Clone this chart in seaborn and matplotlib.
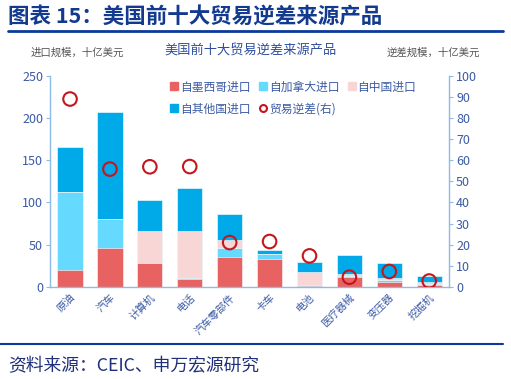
import numpy as np
import pandas as pd
import matplotlib
matplotlib.use('Agg')
import matplotlib.pyplot as plt
from matplotlib.lines import Line2D
import seaborn as sns

# data (十亿美元)
cats = ['原油', '汽车', '计算机', '电话', '汽车零部件', '卡车', '电池', '医疗器械', '变压器', '挖掘机']
mexico = [20, 46, 28, 9.5, 35.5, 33, 1.5, 12, 6, 2]
canada = [92, 35, 0, 1, 11, 6, 0.5, 1, 2, 1.5]
china = [0, 0, 38.5, 55.5, 9, 0, 16, 2, 3, 2.5]
other = [53.5, 126.5, 37, 51, 30.5, 5, 11.5, 23, 17, 6.5]
deficit = [89, 55.8, 56.9, 57, 21, 21.5, 14.7, 4.6, 7.3, 2.8]

c_mex = '#E86262'
c_can = '#66D9FF'
c_chn = '#F9D6D6'
c_oth = '#00A9E8'
c_def = '#C4161C'
c_tick = '#3B5BA5'
c_spine = '#8CBCE6'
c_navy = '#123A8E'

sns.set_style('white')
plt.rcParams['font.family'] = ['Noto Sans CJK SC', 'DejaVu Sans']

df = pd.DataFrame({'cat': cats, 'mex': mexico, 'can': canada, 'chn': china, 'oth': other})
df['s1'] = df['mex']
df['s2'] = df['s1'] + df['can']
df['s3'] = df['s2'] + df['chn']
df['s4'] = df['s3'] + df['oth']

fig = plt.figure(figsize=(5.11, 3.79), dpi=100)
ax = fig.add_axes([0.098, 0.243, 0.781, 0.557])

# stacked bars drawn back to front
for col, c in [('s4', c_oth), ('s3', c_chn), ('s2', c_can), ('s1', c_mex)]:
    sns.barplot(x='cat', y=col, data=df, color=c, width=0.63, ax=ax,
                edgecolor='white', linewidth=0.4, saturation=1)

ax.set_ylim(0, 250)
ax.set_yticks(range(0, 251, 50))
ax.set_xlim(-0.5, 9.5)
ax.set_xlabel('')
ax.set_ylabel('')
ax.set_xticks(range(10))
ax.set_xticklabels(cats, rotation=45, ha='right', rotation_mode='anchor',
                   fontsize=7.5, color=c_tick)
ax.xaxis.set_minor_locator(matplotlib.ticker.FixedLocator(np.arange(-0.5, 10, 1)))
ax.tick_params(axis='x', which='major', length=0, pad=4)
ax.tick_params(axis='x', which='minor', length=4, color=c_spine, direction='out')
ax.tick_params(axis='y', length=3, color=c_spine, labelsize=9, labelcolor=c_tick, pad=2)
for s in ['top', 'right']:
    ax.spines[s].set_visible(False)
for s in ['left', 'bottom']:
    ax.spines[s].set_color(c_spine)
    ax.spines[s].set_linewidth(1)

ax2 = ax.twinx()
ax2.scatter(range(10), deficit, s=95, facecolors='none', edgecolors=c_def,
            linewidths=1.5, zorder=5)
ax2.set_ylim(0, 100)
ax2.set_yticks(range(0, 101, 10))
ax2.tick_params(axis='y', length=3, color=c_spine, labelsize=9, labelcolor=c_tick, pad=2)
for s in ['top', 'left', 'bottom']:
    ax2.spines[s].set_visible(False)
ax2.spines['right'].set_color(c_spine)
ax2.spines['right'].set_linewidth(1)

handles = [
    Line2D([], [], marker='s', ls='', color=c_mex, markersize=6),
    Line2D([], [], marker='s', ls='', color=c_oth, markersize=6),
    Line2D([], [], marker='s', ls='', color=c_can, markersize=6),
    Line2D([], [], marker='o', ls='', markerfacecolor='none', markeredgecolor=c_def,
           markeredgewidth=1.5, markersize=5),
    Line2D([], [], marker='s', ls='', color=c_chn, markersize=6),
]
labels = ['自墨西哥进口', '自其他国进口', '自加拿大进口', '贸易逆差(右)', '自中国进口']
leg = ax2.legend(handles, labels, ncol=3, loc='upper left', bbox_to_anchor=(0.29, 1.0),
                 frameon=False, fontsize=8.5, handlelength=0.6, handletextpad=0.2,
                 columnspacing=0.75, labelspacing=0.75, borderaxespad=0)
for t in leg.get_texts():
    t.set_color(c_tick)

# titles and notes
fig.text(0.016, 0.955, '图表 15：美国前十大贸易逆差来源产品', fontsize=15.5, fontweight='bold',
         color=c_navy, va='center')
fig.add_artist(Line2D([0.016, 0.985], [0.918, 0.918], color='#0B3A9C', lw=2))
fig.text(0.49, 0.868, '美国前十大贸易逆差来源产品', fontsize=9.5, color='#2E4E9F', ha='center', va='center')
fig.text(0.06, 0.86, '进口规模，十亿美元', fontsize=7.5, color='#555555', va='center')
fig.text(0.94, 0.86, '逆差规模，十亿美元', fontsize=7.5, color='#555555', va='center', ha='right')
fig.add_artist(Line2D([0.0, 0.985], [0.092, 0.092], color='#0B3A9C', lw=1.5))
fig.text(0.016, 0.035, '资料来源：CEIC、申万宏源研究', fontsize=12.8, color='#1F2F7A', va='center')

fig.savefig('out.png', dpi=100)
